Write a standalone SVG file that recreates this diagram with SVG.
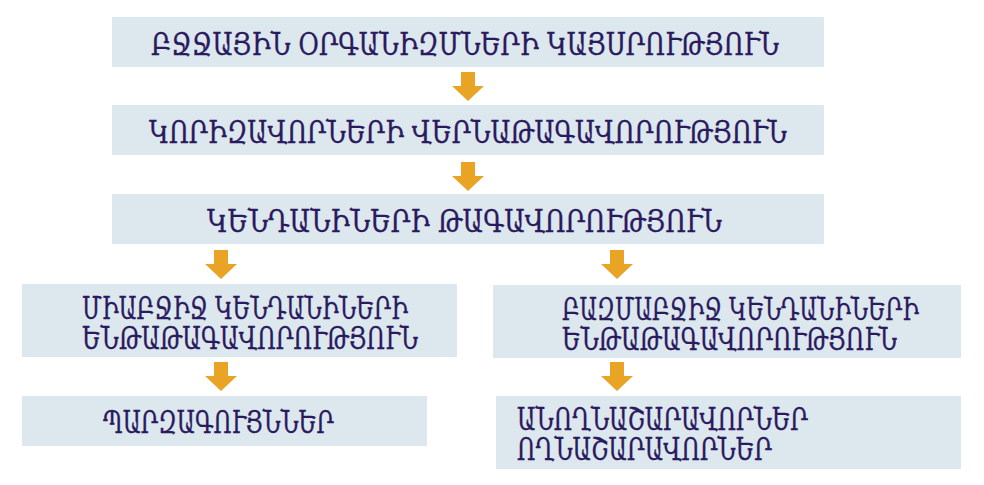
<svg xmlns="http://www.w3.org/2000/svg" width="984" height="485" viewBox="0 0 984 485">
<defs>
<style>
.box{fill:#dce7ee}
.t{font-family:"DejaVu Serif","Noto Serif",serif;font-size:31px;fill:#2a1a5e;stroke:#2a1a5e;stroke-width:0.35}
.arr{fill:#e9a325}
</style>
<path id="ar" d="M-7,0 H7 V14 H16 L0,29 L-16,14 H-7 Z"/>
</defs>
<rect width="984" height="485" fill="#ffffff"/>
<g id="connectors" class="arr">
<use href="#ar" x="468" y="72"/>
<use href="#ar" x="468" y="162"/>
<use href="#ar" x="221" y="250"/>
<use href="#ar" x="617" y="250"/>
<use href="#ar" x="221" y="362"/>
<use href="#ar" x="617" y="362"/>
</g>
<g id="n1"><rect class="box" x="112" y="17" width="712" height="50"/><text class="t" x="151" y="55" textLength="628" lengthAdjust="spacingAndGlyphs">ԲՋՋԱՅԻՆ ՕՐԳԱՆԻԶՄՆԵՐԻ ԿԱՅՍՐՈՒԹՅՈՒՆ</text></g>
<g id="n2"><rect class="box" x="112" y="105" width="712" height="50"/><text class="t" x="149" y="143" textLength="638" lengthAdjust="spacingAndGlyphs">ԿՈՐԻԶԱՎՈՐՆԵՐԻ ՎԵՐՆԱԹԱԳԱՎՈՐՈՒԹՅՈՒՆ</text></g>
<g id="n3"><rect class="box" x="112" y="194" width="712" height="50"/><text class="t" x="207" y="232" textLength="515" lengthAdjust="spacingAndGlyphs">ԿԵՆԴԱՆԻՆԵՐԻ ԹԱԳԱՎՈՐՈՒԹՅՈՒՆ</text></g>
<g id="n4"><rect class="box" x="22" y="284" width="435" height="73"/><text class="t" x="82" y="319" textLength="326" lengthAdjust="spacingAndGlyphs">ՄԻԱԲՋԻՋ ԿԵՆԴԱՆԻՆԵՐԻ</text><text class="t" x="82" y="349" textLength="336" lengthAdjust="spacingAndGlyphs">ԵՆԹԱԹԱԳԱՎՈՐՈՒԹՅՈՒՆ</text></g>
<g id="n5"><rect class="box" x="493" y="285" width="468" height="73"/><text class="t" x="562" y="320" textLength="357" lengthAdjust="spacingAndGlyphs">ԲԱԶՄԱԲՋԻՋ ԿԵՆԴԱՆԻՆԵՐԻ</text><text class="t" x="562" y="350" textLength="335" lengthAdjust="spacingAndGlyphs">ԵՆԹԱԹԱԳԱՎՈՐՈՒԹՅՈՒՆ</text></g>
<g id="n6"><rect class="box" x="22" y="396" width="405" height="50"/><text class="t" x="103" y="433" textLength="231" lengthAdjust="spacingAndGlyphs">ՊԱՐԶԱԳՈՒՅՆՆԵՐ</text></g>
<g id="n7"><rect class="box" x="496" y="396" width="465" height="73"/><text class="t" x="517" y="430" textLength="291" lengthAdjust="spacingAndGlyphs">ԱՆՈՂՆԱՇԱՐԱՎՈՐՆԵՐ</text><text class="t" x="517" y="460" textLength="255" lengthAdjust="spacingAndGlyphs">ՈՂՆԱՇԱՐԱՎՈՐՆԵՐ</text></g>
</svg>
